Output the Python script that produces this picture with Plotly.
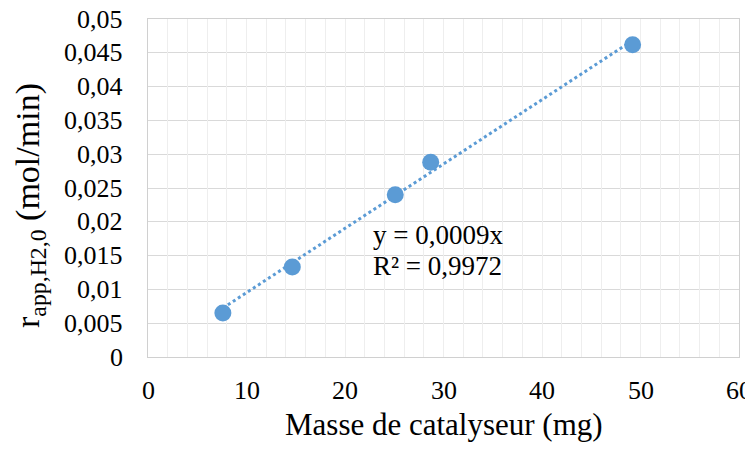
import numpy as np
import plotly.graph_objects as go

masse = [7.6, 14.65, 25.1, 28.7, 49.2]
r_app = [0.0065, 0.0133, 0.0240, 0.0288, 0.0462]
x_ticks = [0, 10, 20, 30, 40, 50, 60]
x_tick_labels = ["0", "10", "20", "30", "40", "50", "60"]
y_ticks = [0, 0.005, 0.01, 0.015, 0.02, 0.025, 0.03, 0.035, 0.04, 0.045, 0.05]
y_tick_labels = ["0", "0,005", "0,01", "0,015", "0,02", "0,025", "0,03",
                 "0,035", "0,04", "0,045", "0,05"]
eq_line1 = "y = 0,0009x"
eq_line2 = "R² = 0,9972"
x_title = "Masse de catalyseur (mg)"
y_title = "r<sub>app,H2,0</sub> (mol/min)"

xa = np.array(masse)
ya = np.array(r_app)
slope = float((xa * ya).sum() / (xa * xa).sum())
x_fit = [min(masse), max(masse)]
y_fit = [slope * v for v in x_fit]

BLUE = "#5B9BD5"
FONT = "Liberation Serif"


def tf(size):
    return dict(family=FONT, size=size, color="black")


fig = go.Figure()
# invisible helper trace so the minor-grid overlay axis is drawn
fig.add_trace(go.Scatter(x=[0, 60], y=[0, 0.05], xaxis="x2", yaxis="y",
                         mode="markers", marker=dict(opacity=0), hoverinfo="skip",
                         showlegend=False))
fig.add_trace(go.Scatter(x=x_fit, y=y_fit, mode="lines",
                         line=dict(color=BLUE, width=3, dash="dot"),
                         hoverinfo="skip", showlegend=False))
fig.add_trace(go.Scatter(x=masse, y=r_app, mode="markers",
                         marker=dict(color=BLUE, size=17, line=dict(width=0)),
                         showlegend=False))

# equation / R² text
fig.add_annotation(x=22.65, y=0.0180, xref="x", yref="y", text=eq_line1,
                   showarrow=False, xanchor="left", yanchor="middle", font=tf(27))
fig.add_annotation(x=22.65, y=0.01345, xref="x", yref="y", text=eq_line2,
                   showarrow=False, xanchor="left", yanchor="middle", font=tf(27))

# tick labels (serif), positioned on the axes' own coordinates
for v, lab in zip(x_ticks, x_tick_labels):
    fig.add_annotation(x=v, y=0, xref="x", yref="y", text=lab, showarrow=False,
                       xanchor="center", yanchor="middle", yshift=-33, font=tf(26))
for v, lab in zip(y_ticks, y_tick_labels):
    fig.add_annotation(x=0, y=v, xref="x", yref="y", text=lab, showarrow=False,
                       xanchor="right", yanchor="middle", xshift=-23, font=tf(26))

# axis titles
fig.add_annotation(x=0.5, y=0, xref="paper", yref="paper", text=x_title,
                   showarrow=False, xanchor="center", yanchor="middle", yshift=-67,
                   font=tf(31))
fig.add_annotation(x=0, y=0.5, xref="paper", yref="paper", text=y_title,
                   showarrow=False, textangle=-90, xanchor="center", yanchor="middle",
                   xshift=-118, yshift=-18, font=tf(34))

fig.update_layout(
    template="none",
    width=745, height=444,
    margin=dict(l=140, r=14, t=11, b=95),
    paper_bgcolor="white", plot_bgcolor="white",
    font=dict(family=FONT, size=25, color="black"),
    xaxis2=dict(range=[0, 60], dtick=2, showgrid=True, gridcolor="#eeeeee", gridwidth=1,
                showticklabels=False, ticks="", zeroline=False, overlaying="x",
                side="bottom", automargin=False, layer="below traces"),
    xaxis=dict(range=[0, 60], tickmode="array", tickvals=x_ticks,
               ticktext=[""] * len(x_ticks), showgrid=True, gridcolor="#d9d9d9",
               gridwidth=1.3, zeroline=False, showline=True, linecolor="#d0d0d0",
               linewidth=1.3, mirror=True, automargin=False, showticklabels=False,
               ticks=""),
    yaxis=dict(range=[0, 0.05], tickmode="array", tickvals=y_ticks,
               ticktext=[""] * len(y_ticks), showgrid=True, gridcolor="#d9d9d9",
               gridwidth=1.3, zeroline=False, showline=True, linecolor="#d0d0d0",
               linewidth=1.3, mirror=True, automargin=False, showticklabels=False,
               ticks=""),
)

fig.write_html("out.html")
